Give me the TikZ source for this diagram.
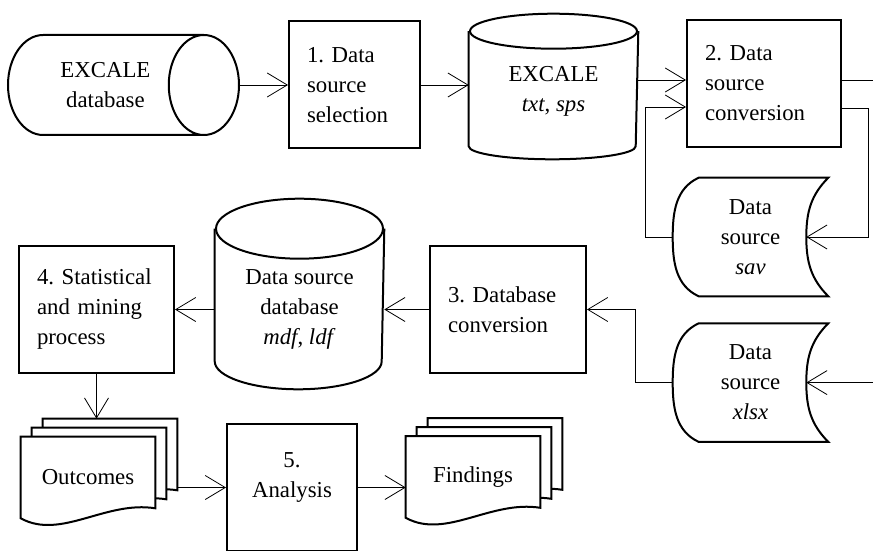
\documentclass[tikz,border=0pt]{standalone}
\usepackage{fontspec}
\setmainfont{Liberation Serif}
\usepackage{tikz}
\usetikzlibrary{shapes.geometric,positioning,arrows.meta,backgrounds}
\frenchspacing

\begin{document}
\begin{tikzpicture}[x=0.5pt,y=-0.5pt,->,>={Straight Barb[length=10pt,width=12pt]},line width=1.3pt,
        node distance=24pt,font=\fontsize{11.4}{15}\selectfont,
        box/.style={draw,line width=1pt,rectangle,minimum height=63.5pt,inner xsep=9pt,align=left},
        cyl/.style={draw,line width=1pt,cylinder,align=center,inner sep=0pt},
        dbase/.style={rectangle,minimum width=83.5pt,align=center,inner sep=0pt},
        stored/.style={rectangle,minimum width=76.5pt,minimum height=58pt,align=center,inner sep=0pt},
        doc/.style={rectangle,minimum width=66pt,minimum height=39.5pt,align=center,inner sep=0pt}]
    \useasboundingbox (0,0) rectangle (873,551);
    % first row
    \node[cyl,minimum width=50pt,minimum height=115.5pt,aspect=1.55,anchor=shape center] (db) at (123.5,85) {EXCALE\\database};
    \node[box,text width=47.5pt,right=of db] (sel) {1. Data\\source\\selection};
    \node[dbase,minimum height=71.5pt,text height=27.8pt] (excale) at (553.5,86.5) {EXCALE\\\textit{txt}, \textit{sps}};
    \node[box,text width=59pt] (conv) at (764,83.5) {2. Data\\source\\conversion};
    % stored data on the right
    \node[stored] (sav) at (750.5,237) {Data\\source\\\textit{sav}};
    \node[stored,below=13.5pt of sav] (xlsx) {Data\\source\\\textit{xlsx}};
    % second row
    \node[box,text width=60pt] (dbconv) at (508,309.5) {3. Database\\conversion};
    \node[dbase,minimum height=94pt,text height=52.8pt] (srcdb) at (299.5,294) {Data source\\database\\\textit{mdf}, \textit{ldf}};
    \node[box,text width=59.5pt] (stat) at (96.5,309.5) {4. Statistical\\and mining\\process};
    % third row
    \node[doc] (out) at (88,477.5) {Outcomes};
    \node[box,align=center,minimum width=65pt,inner xsep=0pt,text depth=12pt] (ana) at (292,487.5) {5.\\Analysis};
    \node[doc] (find) at (473,477) {Findings};

    % outlines of the drawn symbols
    \foreach \n/\rt/\rb in {excale/8.75pt/6.5pt,srcdb/15pt/14pt}{
        \draw[-,line width=1pt] ([yshift=-\rt]\n.north) ellipse [x radius=41.75pt,y radius=\rt];
        \draw[-,line width=1pt] ([yshift=-\rt]\n.north west) -- ([yshift=\rb]\n.south west)
            arc [start angle=180,end angle=360,x radius=41.75pt,y radius=\rb] -- ([yshift=-\rt]\n.north east);
    }
    \foreach \n in {sav,xlsx}
        \draw[-,line width=1pt] ([xshift=13pt]\n.north west) -- (\n.north east) to[out=-135,in=90] ([xshift=-11pt]\n.east)
            to[out=-90,in=135] (\n.south east) -- ([xshift=13pt]\n.south west) to[out=155,in=-90] (\n.west)
            to[out=90,in=-155] ([xshift=13pt]\n.north west) -- cycle;
    \begin{pgfonlayer}{background}
        \foreach \n in {out,find}
            \foreach \dx/\dy in {11pt/9pt,5.5pt/4.5pt,0pt/0pt}
                \draw[-,line width=1pt,fill=white] ([shift={(\dx,\dy)}]\n.north west) -- ([shift={(\dx,\dy)}]\n.north east)
                    -- ([shift={(\dx,\dy+5pt)}]\n.south east)
                    .. controls ([shift={(\dx+42.5pt,\dy+9pt)}]\n.south west) and ([shift={(\dx+20pt,\dy-11pt)}]\n.south west)
                    .. ([shift={(\dx,\dy)}]\n.south west) -- cycle;
    \end{pgfonlayer}

    \coordinate (rim) at (873,0);
    \coordinate (convin) at ([yshift=1.75pt]conv.west);
    \coordinate (convout) at ([yshift=1.75pt]conv.east);
    \coordinate (outtop) at ([shift={(11pt,9pt)}]out.north);
    \coordinate (outback) at ([xshift=11pt]out.east);

    \path (db) edge (sel)
          (sel) edge (excale.west |- sel);
    \draw (convin -| excale.east) -- (convin);
    \draw[-] (convout) -- (convout -| rim);
    \draw ([yshift=-12.25pt]conv.east) -- ++(26,0) |- ([xshift=-11pt]sav.east);
    \draw (sav.west) -- ++(-27,0) |- ([yshift=-11.75pt]conv.west);
    \draw (xlsx.east -| rim) -- ([xshift=-11pt]xlsx.east);
    \draw (xlsx.west) -- ++(-37,0) |- (dbconv.east);
    \draw (dbconv.west) -- (dbconv.west -| srcdb.east);
    \draw (srcdb.west |- stat.east) -- (stat.east);
    \draw (stat.south) -- (stat.south |- outtop);
    \draw (ana.west -| outback) -- (ana.west);
    \draw (ana.east) -- (ana.east -| find.west);
\end{tikzpicture}
\end{document}
